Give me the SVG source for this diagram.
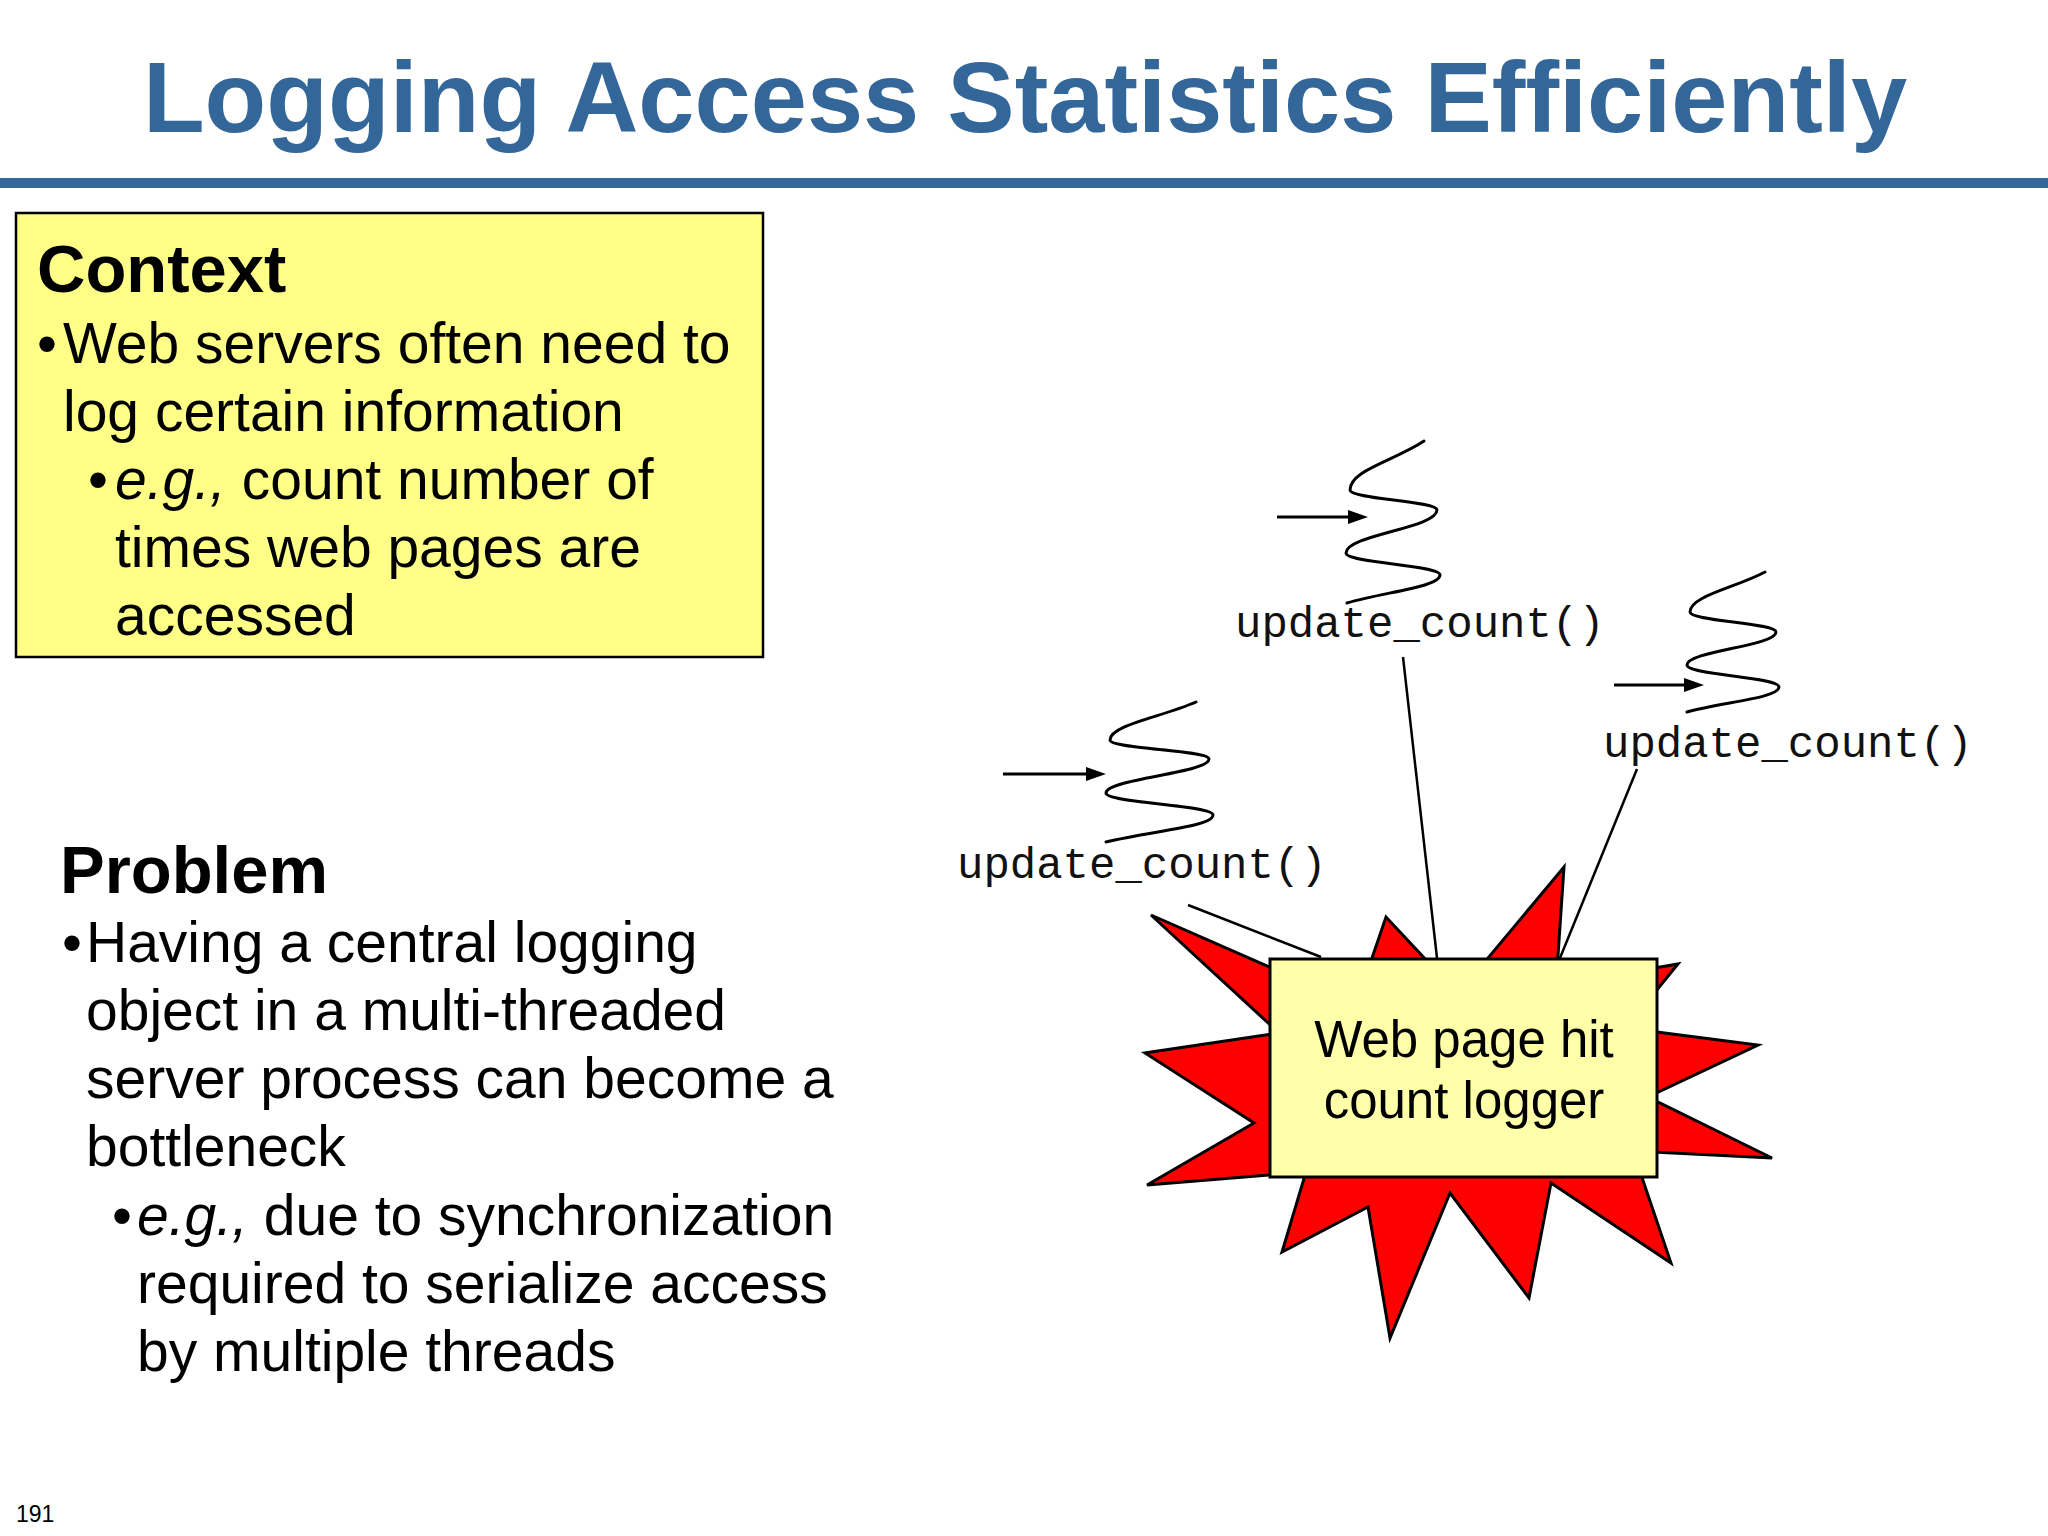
<svg xmlns="http://www.w3.org/2000/svg" width="2048" height="1536" viewBox="0 0 2048 1536">
<defs>
<style>
.title{font-family:"Liberation Sans",Arial,sans-serif;font-weight:bold;font-size:101px;fill:#336699}
.head{font-family:"Liberation Sans",Arial,sans-serif;font-weight:bold;font-size:67px;fill:#000}
.body{font-family:"Liberation Sans",Arial,sans-serif;font-size:57px;fill:#000}
.it{font-style:italic}
.node{font-family:"Liberation Sans",Arial,sans-serif;font-size:51px;fill:#000}
.code{font-family:"Liberation Mono","Courier New",monospace;font-size:44px;fill:#111}
.wire{fill:none;stroke:#000;stroke-width:2.5}
.thread{fill:none;stroke:#000;stroke-width:3;stroke-linecap:round}
.arrow{fill:none;stroke:#000;stroke-width:3}
.pg{font-family:"Liberation Sans",Arial,sans-serif;font-size:23px;fill:#000}
</style>
<marker id="ah" markerUnits="userSpaceOnUse" markerWidth="22" markerHeight="16" refX="8" refY="7" orient="auto">
<path d="M0,0 L20,7 L0,14 z" fill="#000"/>
</marker>
</defs>
<rect width="2048" height="1536" fill="#fff"/>
<g id="title">
<text class="title" x="1025" y="132" text-anchor="middle">Logging Access Statistics Efficiently</text>
<rect x="0" y="178" width="2048" height="10" fill="#336699"/>
</g>
<g id="context">
<rect x="16" y="213" width="747" height="444" fill="#FFFF88" stroke="#000" stroke-width="2.5"/>
<text class="head" x="37" y="292">Context</text>
<text class="body" x="37" y="363">•</text>
<text class="body" x="63" y="363">Web servers often need to</text>
<text class="body" x="63" y="431">log certain information</text>
<text class="body" x="88" y="499">•</text>
<text class="body" x="115" y="499"><tspan class="it">e.g.,</tspan> count number of</text>
<text class="body" x="115" y="567">times web pages are</text>
<text class="body" x="115" y="635">accessed</text>
</g>
<g id="problem">
<text class="head" x="60" y="893">Problem</text>
<text class="body" x="62" y="962">•</text>
<text class="body" x="86" y="962">Having a central logging</text>
<text class="body" x="86" y="1030">object in a multi-threaded</text>
<text class="body" x="86" y="1098">server process can become a</text>
<text class="body" x="86" y="1166">bottleneck</text>
<text class="body" x="112" y="1235">•</text>
<text class="body" x="137" y="1235"><tspan class="it">e.g.,</tspan> due to synchronization</text>
<text class="body" x="137" y="1303">required to serialize access</text>
<text class="body" x="137" y="1371">by multiple threads</text>
</g>
<g id="connectors">
<line class="wire" x1="1188" y1="905" x2="1321" y2="957"/>
<line class="wire" x1="1403" y1="657" x2="1437" y2="958"/>
<line class="wire" x1="1637" y1="769" x2="1560" y2="958"/>
</g>
<g id="logger">
<polygon points="1151,915 1356,1005 1386,917 1458,994 1564,867 1556,985 1678,964 1626,1028 1758,1045 1648,1097 1772,1158 1633,1151 1671,1263 1551,1183 1529,1298 1450,1193 1390,1338 1368,1207 1282,1252 1306,1172 1147,1185 1254,1123 1145,1053 1279,1033" fill="#FF0000" stroke="#000" stroke-width="3" stroke-linejoin="miter"/>
<rect x="1270" y="959" width="387" height="218" fill="#FFFFAA" stroke="#000" stroke-width="3"/>
<text class="node" x="1464" y="1057" text-anchor="middle">Web page hit</text>
<text class="node" x="1464" y="1118" text-anchor="middle">count logger</text>
</g>
<g id="thread-left">
<line class="arrow" x1="1003" y1="774" x2="1094" y2="774" marker-end="url(#ah)"/>
<path class="thread" d="M1196,702 C1162,717 1110,725 1110,740 C1110,749 1209,750 1209,759 C1209,773 1106,779 1106,793 C1106,803 1213,805 1213,815 C1213,827 1149,831 1106,842"/>
<text class="code" x="957" y="878">update_count()</text>
</g>
<g id="thread-top">
<line class="arrow" x1="1277" y1="517" x2="1356" y2="517" marker-end="url(#ah)"/>
<path class="thread" d="M1424,441 C1394,461 1350,470 1350,490 C1350,499 1437,501 1437,510 C1437,528 1346,535 1346,553 C1346,563 1440,565 1440,575 C1440,587 1384,592 1347,603"/>
<text class="code" x="1235" y="637">update_count()</text>
</g>
<g id="thread-right">
<line class="arrow" x1="1614" y1="685" x2="1692" y2="685" marker-end="url(#ah)"/>
<path class="thread" d="M1765,572 C1735,588 1690,596 1690,612 C1690,621 1776,623 1776,632 C1776,646 1687,651 1687,665 C1687,675 1779,677 1779,687 C1779,698 1724,702 1687,712"/>
<text class="code" x="1603" y="757">update_count()</text>
</g>
<text class="pg" x="16" y="1522">191</text>
</svg>
